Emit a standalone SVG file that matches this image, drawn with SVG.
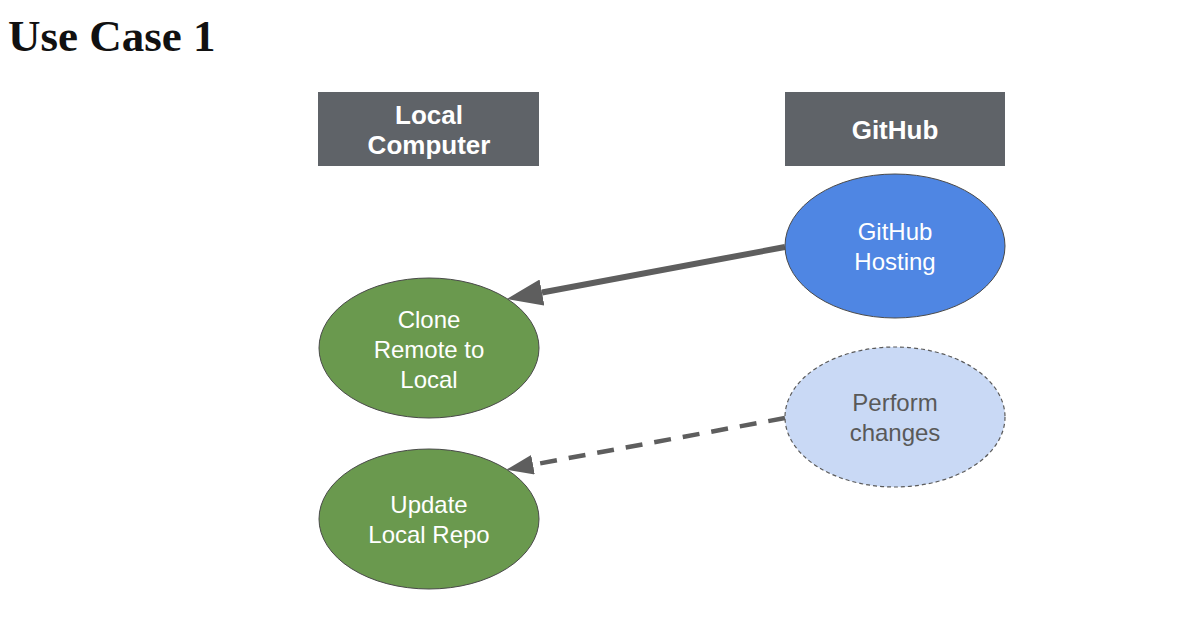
<svg xmlns="http://www.w3.org/2000/svg" width="1179" height="624" viewBox="0 0 1179 624">
  <style>
    .title { font-family: "Liberation Serif", "Times New Roman", serif; font-weight: bold; font-size: 45px; fill: #111; }
    .hdr { fill: #5f6368; }
    .hdrtxt { font-family: "Liberation Sans", Arial, sans-serif; font-weight: bold; font-size: 26px; fill: #ffffff; text-anchor: middle; }
    .lbl { font-family: "Liberation Sans", Arial, sans-serif; font-size: 24px; text-anchor: middle; }
    .w { fill: #ffffff; }
    .d { fill: #595959; }
    .green { fill: #6a994e; stroke: #4a4a4a; stroke-width: 1; }
    .blue { fill: #4f86e3; stroke: #4a4a4a; stroke-width: 1; }
    .light { fill: #c9d9f5; stroke: #5a5a5a; stroke-width: 1.2; stroke-dasharray: 4 3; }
    .conn { stroke: #5e5e5e; fill: none; }
  </style>
  <defs>
    <marker id="arrow" viewBox="0 0 6 4.4" refX="0" refY="2.2" markerWidth="6" markerHeight="4.4" markerUnits="strokeWidth" orient="auto">
      <path d="M0,0 L6,2.2 L0,4.4 z" fill="#5e5e5e"/>
    </marker>
  </defs>
  <rect width="1179" height="624" fill="#ffffff"/>
  <text class="title" x="8" y="51">Use Case 1</text>

  <g id="hdr-local">
    <rect class="hdr" x="318" y="92" width="221" height="74"/>
    <text class="hdrtxt" x="429" y="124">Local</text>
    <text class="hdrtxt" x="429" y="154">Computer</text>
  </g>
  <g id="hdr-github">
    <rect class="hdr" x="785" y="92" width="220" height="74"/>
    <text class="hdrtxt" x="895" y="139">GitHub</text>
  </g>

  <g id="connectors">
    <line class="conn" x1="785" y1="247" x2="542" y2="292.5" stroke-width="6" marker-end="url(#arrow)"/>
    <line class="conn" x1="785" y1="418" x2="533" y2="464.7" stroke-width="4.5" stroke-dasharray="17 12" marker-end="url(#arrow)"/>
  </g>

  <g id="github-hosting">
    <ellipse class="blue" cx="895" cy="246" rx="110" ry="72"/>
    <text class="lbl w" x="895" y="240">GitHub</text>
    <text class="lbl w" x="895" y="270">Hosting</text>
  </g>
  <g id="clone">
    <ellipse class="green" cx="429" cy="348" rx="110" ry="70"/>
    <text class="lbl w" x="429" y="328">Clone</text>
    <text class="lbl w" x="429" y="358">Remote to</text>
    <text class="lbl w" x="429" y="388">Local</text>
  </g>
  <g id="perform">
    <ellipse class="light" cx="895" cy="417" rx="110" ry="70"/>
    <text class="lbl d" x="895" y="411">Perform</text>
    <text class="lbl d" x="895" y="441">changes</text>
  </g>
  <g id="update">
    <ellipse class="green" cx="429" cy="519" rx="110" ry="70"/>
    <text class="lbl w" x="429" y="513">Update</text>
    <text class="lbl w" x="429" y="543">Local Repo</text>
  </g>
</svg>
